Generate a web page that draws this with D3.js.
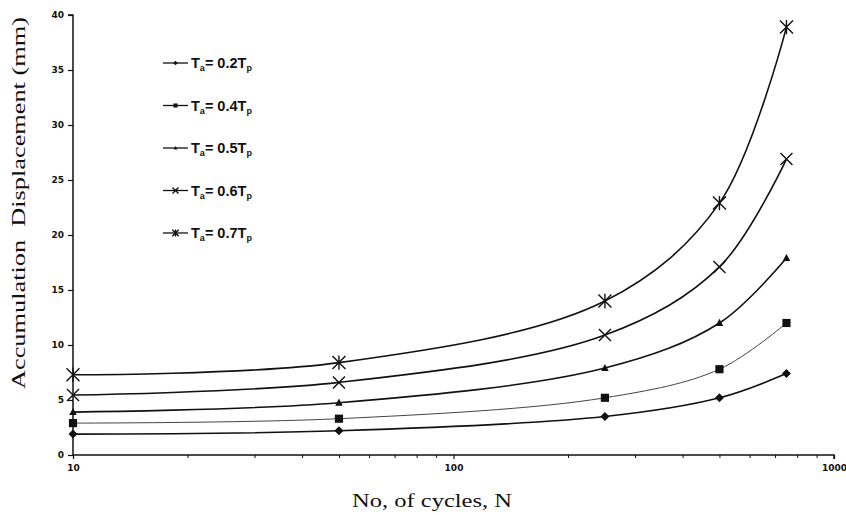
<!DOCTYPE html>
<html>
<head>
<meta charset="utf-8">
<script src="https://cdn.jsdelivr.net/npm/d3@7"></script>
<style>
  html, body { margin: 0; padding: 0; background: #fff; }
  svg { display: block; }
</style>
</head>
<body>
<svg id="chart" width="846" height="515"></svg>
<script>
// ---- data ----
const cycles = [10, 50, 250, 500, 750];
const ta02 = [1.9, 2.2, 3.5, 5.2, 7.4];
const ta04 = [2.9, 3.3, 5.2, 7.8, 12.0];
const ta05 = [3.9, 4.75, 7.9, 12.0, 17.9];
const ta06 = [5.45, 6.6, 10.9, 17.1, 26.9];
const ta07 = [7.3, 8.4, 14.0, 22.9, 38.9];
const seriesLabels = ["0.2", "0.4", "0.5", "0.6", "0.7"];
const yTicks = [0, 5, 10, 15, 20, 25, 30, 35, 40];
const xMajorTicks = [10, 100, 1000];
const xMinorTicks = [20, 30, 40, 50, 60, 70, 80, 90, 200, 300, 400, 500, 600, 700, 800, 900];

const series = [
  { label: seriesLabels[0], values: ta02, marker: "diamond", width: 1.6, color: "#111" },
  { label: seriesLabels[1], values: ta04, marker: "square",  width: 1.0, color: "#444" },
  { label: seriesLabels[2], values: ta05, marker: "triangle", width: 1.6, color: "#111" },
  { label: seriesLabels[3], values: ta06, marker: "x",        width: 1.6, color: "#111" },
  { label: seriesLabels[4], values: ta07, marker: "star",     width: 1.6, color: "#111" }
];

const svg = d3.select("#chart");
const mLeft = 73, mRight = 834, mTop = 15, mBottom = 455;

const x = d3.scaleLog().domain([10, 1000]).range([mLeft, mRight]);
const y = d3.scaleLinear().domain([0, 40]).range([mBottom, mTop]);

// ---- axes ----
const yAxis = d3.axisLeft(y).tickValues(yTicks).tickSize(5).tickPadding(4).tickFormat(d3.format("d"));
const gy = svg.append("g").attr("transform", `translate(${mLeft},0)`).call(yAxis);
gy.select(".domain").attr("stroke", "#111").attr("stroke-width", 1.5).attr("d", `M-5,${mTop}H0V${mBottom}`);
gy.selectAll(".tick line").attr("stroke", "#111").attr("stroke-width", 1.2);
gy.selectAll(".tick text").attr("font-family", "DejaVu Sans").attr("font-weight", "bold")
  .attr("font-size", 9).attr("fill", "#111");

const xAxis = d3.axisBottom(x).tickValues(xMajorTicks).tickSize(4).tickPadding(6).tickFormat(d3.format("d"));
const gx = svg.append("g").attr("transform", `translate(0,${mBottom})`).call(xAxis);
gx.select(".domain").attr("stroke", "#111").attr("stroke-width", 1.5).attr("d", `M${mLeft},0H${mRight}V4`);
gx.selectAll(".tick line").attr("stroke", "#111").attr("stroke-width", 1.2);
gx.selectAll(".tick text").attr("font-family", "DejaVu Sans").attr("font-weight", "bold")
  .attr("font-size", 9).attr("fill", "#111");

const gxm = svg.append("g").attr("transform", `translate(0,${mBottom})`)
  .call(d3.axisBottom(x).tickValues(xMinorTicks).tickSize(3).tickFormat(""));
gxm.select(".domain").remove();
gxm.selectAll(".tick line").attr("stroke", "#111").attr("stroke-width", 1);

// ---- axis titles ----
svg.append("text")
  .attr("x", 432).attr("y", 507)
  .attr("text-anchor", "middle")
  .attr("font-family", "Liberation Serif").attr("font-size", 18).attr("fill", "#111")
  .attr("textLength", 160).attr("lengthAdjust", "spacingAndGlyphs")
  .text("No, of cycles, N");

svg.append("text")
  .attr("transform", "translate(25,203) rotate(-90)")
  .attr("text-anchor", "middle")
  .attr("font-family", "Liberation Serif").attr("font-size", 18).attr("fill", "#111")
  .attr("textLength", 372).attr("lengthAdjust", "spacingAndGlyphs")
  .attr("xml:space", "preserve")
  .text("Accumulation  Displacement (mm)");

// ---- markers ----
function drawMarker(g, type, cx, cy, s, color) {
  if (type === "diamond") {
    g.append("path").attr("d", `M${cx},${cy - s}L${cx + s},${cy}L${cx},${cy + s}L${cx - s},${cy}Z`).attr("fill", color);
  } else if (type === "square") {
    g.append("rect").attr("x", cx - s * 0.85).attr("y", cy - s * 0.85).attr("width", s * 1.7).attr("height", s * 1.7).attr("fill", color);
  } else if (type === "triangle") {
    g.append("path").attr("d", `M${cx},${cy - s}L${cx + s * 0.9},${cy + s * 0.7}L${cx - s * 0.9},${cy + s * 0.7}Z`).attr("fill", color);
  } else if (type === "x") {
    g.append("path").attr("d", `M${cx - s},${cy - s}L${cx + s},${cy + s}M${cx - s},${cy + s}L${cx + s},${cy - s}`)
      .attr("stroke", color).attr("stroke-width", 1.4);
  } else if (type === "star") {
    g.append("path").attr("d", `M${cx - s},${cy - s}L${cx + s},${cy + s}M${cx - s},${cy + s}L${cx + s},${cy - s}M${cx},${cy - s * 1.1}L${cx},${cy + s * 1.1}`)
      .attr("stroke", color).attr("stroke-width", 1.4);
  }
}

const markerSize = { diamond: 4.5, square: 4.8, triangle: 4.2, x: 6, star: 6.5 };

const line = d3.line()
  .x(d => x(d[0]))
  .y(d => y(d[1]))
  .curve(d3.curveCatmullRom.alpha(0.5));

const plot = svg.append("g");
series.forEach(s => {
  const pts = cycles.map((c, i) => [c, s.values[i]]);
  plot.append("path").datum(pts).attr("d", line)
    .attr("fill", "none").attr("stroke", s.color).attr("stroke-width", s.width);
  const mg = plot.append("g");
  pts.forEach(p => drawMarker(mg, s.marker, x(p[0]), y(p[1]), markerSize[s.marker], "#111"));
});

// ---- legend ----
const legend = svg.append("g");
const legendY0 = 63, legendStep = 42.5;
series.forEach((s, i) => {
  const ly = legendY0 + i * legendStep;
  legend.append("line").attr("x1", 163).attr("x2", 188).attr("y1", ly).attr("y2", ly)
    .attr("stroke", "#111").attr("stroke-width", 1.3);
  drawMarker(legend, s.marker, 175.5, ly, markerSize[s.marker] * 0.5, "#111");
  const t = legend.append("text").attr("x", 191).attr("y", ly + 5)
    .attr("font-family", "Liberation Sans").attr("font-weight", "bold").attr("font-size", 14.5).attr("fill", "#111");
  t.append("tspan").text("T");
  t.append("tspan").attr("font-size", 9).attr("dy", 3).text("a");
  t.append("tspan").attr("dy", -3).text("= " + s.label + "T");
  t.append("tspan").attr("font-size", 9).attr("dy", 3).text("p");
});
</script>
</body>
</html>
